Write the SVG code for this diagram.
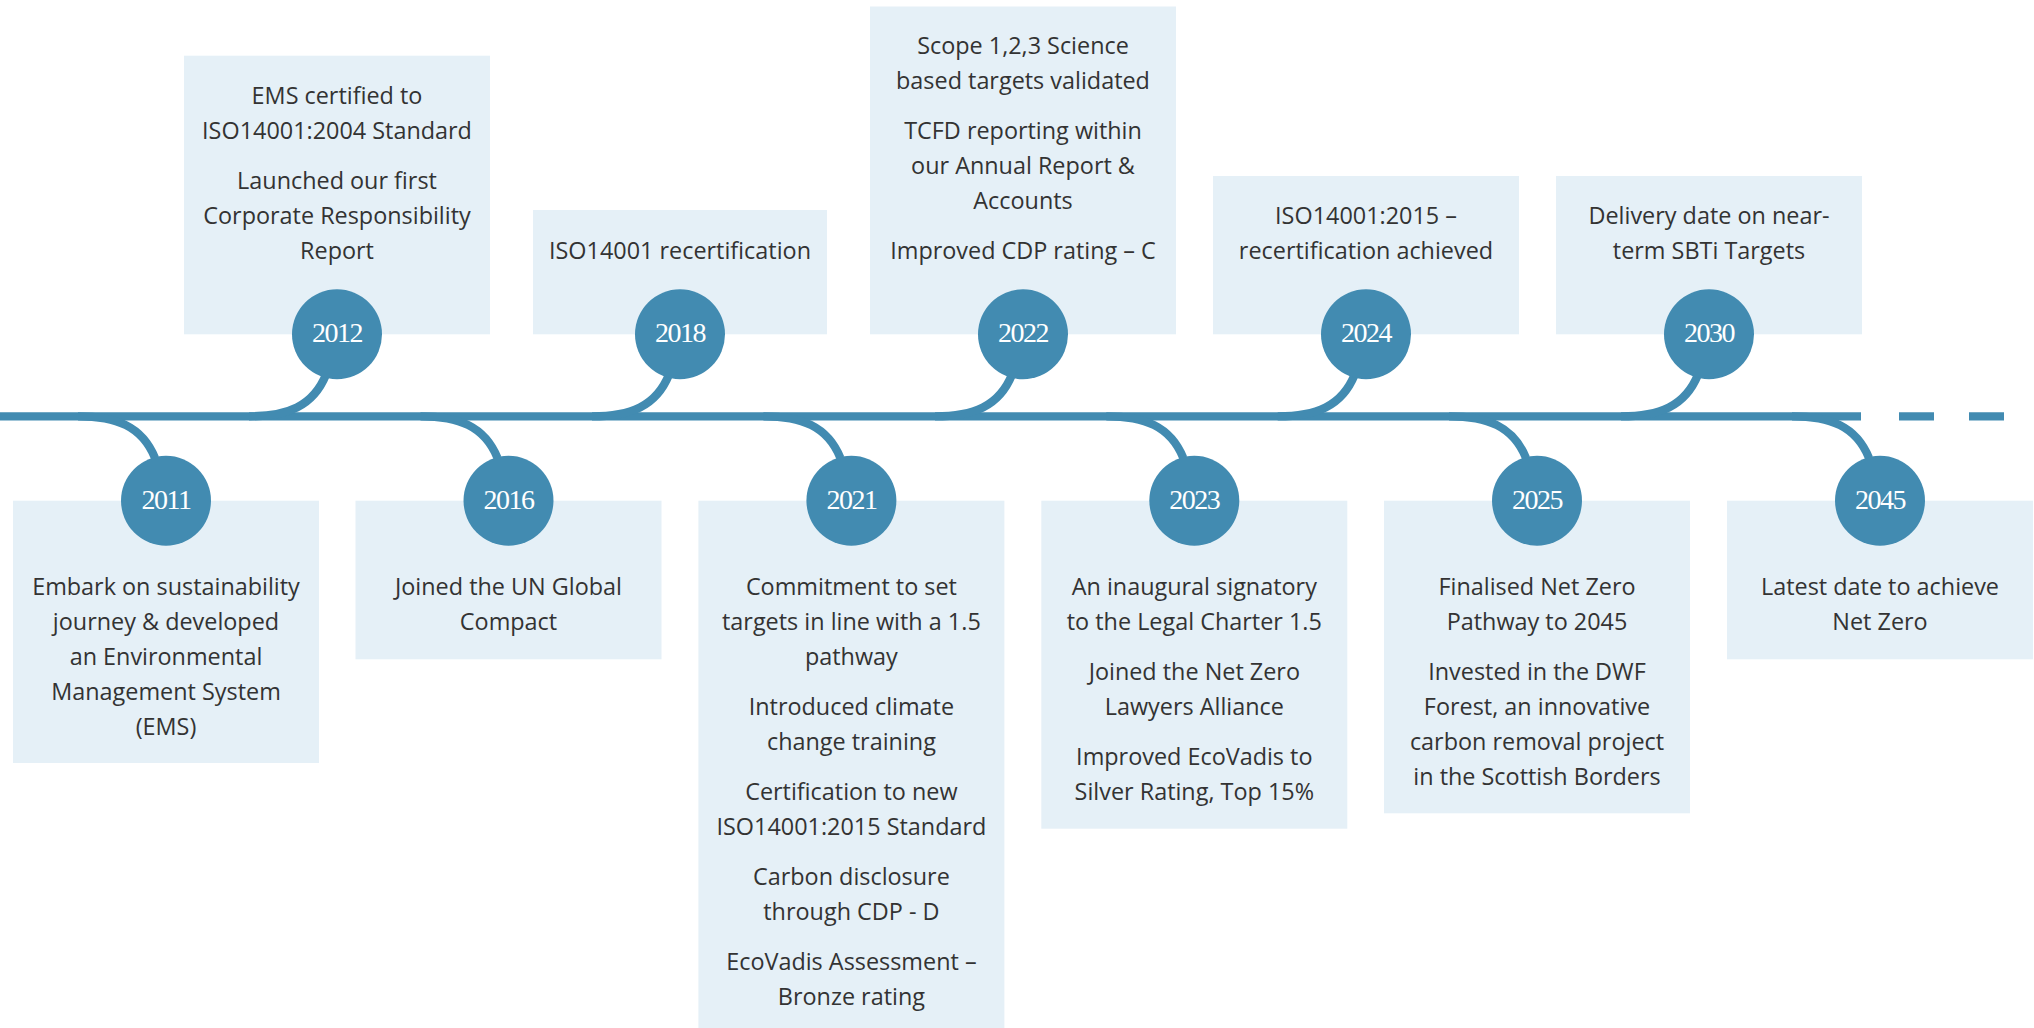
<svg xmlns="http://www.w3.org/2000/svg" width="2034" height="1028" viewBox="0 0 2034 1028">
  <style>
    .box { fill: #e5f0f7; }
    .dot { fill: #428bb1; }
    .rail { stroke: #428bb1; stroke-width: 8.3; fill: none; }
    .year { font-family: "Liberation Serif", "DejaVu Serif", serif; font-size: 28px; letter-spacing: -1.5px; fill: #ffffff; text-anchor: middle; }
    .t { font-family: "Open Sans", "Noto Sans", "Liberation Sans", sans-serif; font-size: 23.4px; fill: #333333; text-anchor: middle; }
  </style>

  <!-- timeline rail and branches -->
  <g id="connectors">
    <line class="rail" x1="0" y1="416.3" x2="1861" y2="416.3"/>
    <line class="rail" x1="1899" y1="416.3" x2="1934" y2="416.3"/>
    <line class="rail" x1="1969" y1="416.3" x2="2004" y2="416.3"/>
    <!-- branches down to the lower milestones -->
    <path class="rail" d="M78 416.3 C116 416.3 142 426 155 458"/>
    <path class="rail" d="M420.5 416.3 C458.5 416.3 484.5 426 497.5 458"/>
    <path class="rail" d="M763.4 416.3 C801.4 416.3 827.4 426 840.4 458"/>
    <path class="rail" d="M1106.3 416.3 C1144.3 416.3 1170.3 426 1183.3 458"/>
    <path class="rail" d="M1449 416.3 C1487 416.3 1513 426 1526 458"/>
    <path class="rail" d="M1792 416.3 C1830 416.3 1856 426 1869 458"/>
    <!-- branches up to the upper milestones -->
    <path class="rail" d="M249 416.3 C287 416.3 313 406.6 326 374.6"/>
    <path class="rail" d="M592 416.3 C630 416.3 656 406.6 669 374.6"/>
    <path class="rail" d="M935 416.3 C973 416.3 999 406.6 1012 374.6"/>
    <path class="rail" d="M1277.7 416.3 C1315.7 416.3 1341.7 406.6 1354.7 374.6"/>
    <path class="rail" d="M1621 416.3 C1659 416.3 1685 406.6 1698 374.6"/>
  </g>

  <!-- upper milestones -->
  <g id="m2012">
    <rect class="box" x="184" y="55.7" width="306" height="278.6"/>
    <text class="t" x="337" y="104.3">EMS certified to</text>
    <text class="t" x="337" y="139.3">ISO14001:2004 Standard</text>
    <text class="t" x="337" y="189.3">Launched our first</text>
    <text class="t" x="337" y="224.3">Corporate Responsibility</text>
    <text class="t" x="337" y="259.3">Report</text>
    <circle class="dot" cx="337" cy="334.3" r="45"/>
    <text class="year" x="337" y="342">2012</text>
  </g>

  <g id="m2018">
    <rect class="box" x="533" y="210" width="294" height="124.3"/>
    <text class="t" x="680" y="259.3">ISO14001 recertification</text>
    <circle class="dot" cx="680" cy="334.3" r="45"/>
    <text class="year" x="680" y="342">2018</text>
  </g>

  <g id="m2022">
    <rect class="box" x="870" y="6.5" width="306" height="327.8"/>
    <text class="t" x="1023" y="54.3">Scope 1,2,3 Science</text>
    <text class="t" x="1023" y="89.3">based targets validated</text>
    <text class="t" x="1023" y="139.3">TCFD reporting within</text>
    <text class="t" x="1023" y="174.3">our Annual Report &amp;</text>
    <text class="t" x="1023" y="209.3">Accounts</text>
    <text class="t" x="1023" y="259.3">Improved CDP rating – C</text>
    <circle class="dot" cx="1023" cy="334.3" r="45"/>
    <text class="year" x="1023" y="342">2022</text>
  </g>

  <g id="m2024">
    <rect class="box" x="1213" y="176" width="306" height="158.3"/>
    <text class="t" x="1366" y="224.3">ISO14001:2015 –</text>
    <text class="t" x="1366" y="259.3">recertification achieved</text>
    <circle class="dot" cx="1366" cy="334.3" r="45"/>
    <text class="year" x="1366" y="342">2024</text>
  </g>

  <g id="m2030">
    <rect class="box" x="1556" y="176" width="306" height="158.3"/>
    <text class="t" x="1709" y="224.3">Delivery date on near-</text>
    <text class="t" x="1709" y="259.3">term SBTi Targets</text>
    <circle class="dot" cx="1709" cy="334.3" r="45"/>
    <text class="year" x="1709" y="342">2030</text>
  </g>

  <!-- lower milestones -->
  <g id="m2011">
    <rect class="box" x="13" y="500.7" width="306" height="262.3"/>
    <text class="t" x="166" y="594.5">Embark on sustainability</text>
    <text class="t" x="166" y="629.5">journey &amp; developed</text>
    <text class="t" x="166" y="664.5">an Environmental</text>
    <text class="t" x="166" y="699.5">Management System</text>
    <text class="t" x="166" y="734.5">(EMS)</text>
    <circle class="dot" cx="166" cy="500.7" r="45"/>
    <text class="year" x="166" y="508.7">2011</text>
  </g>

  <g id="m2016">
    <rect class="box" x="355.5" y="500.7" width="306" height="158.6"/>
    <text class="t" x="508.5" y="594.5">Joined the UN Global</text>
    <text class="t" x="508.5" y="629.5">Compact</text>
    <circle class="dot" cx="508.5" cy="500.7" r="45"/>
    <text class="year" x="508.5" y="508.7">2016</text>
  </g>

  <g id="m2021">
    <rect class="box" x="698.4" y="500.7" width="306" height="540"/>
    <text class="t" x="851.4" y="594.5">Commitment to set</text>
    <text class="t" x="851.4" y="629.5">targets in line with a 1.5</text>
    <text class="t" x="851.4" y="664.5">pathway</text>
    <text class="t" x="851.4" y="714.5">Introduced climate</text>
    <text class="t" x="851.4" y="749.5">change training</text>
    <text class="t" x="851.4" y="799.5">Certification to new</text>
    <text class="t" x="851.4" y="834.5">ISO14001:2015 Standard</text>
    <text class="t" x="851.4" y="884.5">Carbon disclosure</text>
    <text class="t" x="851.4" y="919.5">through CDP - D</text>
    <text class="t" x="851.4" y="969.5">EcoVadis Assessment –</text>
    <text class="t" x="851.4" y="1004.5">Bronze rating</text>
    <circle class="dot" cx="851.4" cy="500.7" r="45"/>
    <text class="year" x="851.4" y="508.7">2021</text>
  </g>

  <g id="m2023">
    <rect class="box" x="1041.3" y="500.7" width="306" height="328"/>
    <text class="t" x="1194.3" y="594.5">An inaugural signatory</text>
    <text class="t" x="1194.3" y="629.5">to the Legal Charter 1.5</text>
    <text class="t" x="1194.3" y="679.5">Joined the Net Zero</text>
    <text class="t" x="1194.3" y="714.5">Lawyers Alliance</text>
    <text class="t" x="1194.3" y="764.5">Improved EcoVadis to</text>
    <text class="t" x="1194.3" y="799.5">Silver Rating, Top 15%</text>
    <circle class="dot" cx="1194.3" cy="500.7" r="45"/>
    <text class="year" x="1194.3" y="508.7">2023</text>
  </g>

  <g id="m2025">
    <rect class="box" x="1384" y="500.7" width="306" height="312.6"/>
    <text class="t" x="1537" y="594.5">Finalised Net Zero</text>
    <text class="t" x="1537" y="629.5">Pathway to 2045</text>
    <text class="t" x="1537" y="679.5">Invested in the DWF</text>
    <text class="t" x="1537" y="714.5">Forest, an innovative</text>
    <text class="t" x="1537" y="749.5">carbon removal project</text>
    <text class="t" x="1537" y="784.5">in the Scottish Borders</text>
    <circle class="dot" cx="1537" cy="500.7" r="45"/>
    <text class="year" x="1537" y="508.7">2025</text>
  </g>

  <g id="m2045">
    <rect class="box" x="1727" y="500.7" width="306" height="158.6"/>
    <text class="t" x="1880" y="594.5">Latest date to achieve</text>
    <text class="t" x="1880" y="629.5">Net Zero</text>
    <circle class="dot" cx="1880" cy="500.7" r="45"/>
    <text class="year" x="1880" y="508.7">2045</text>
  </g>
</svg>
